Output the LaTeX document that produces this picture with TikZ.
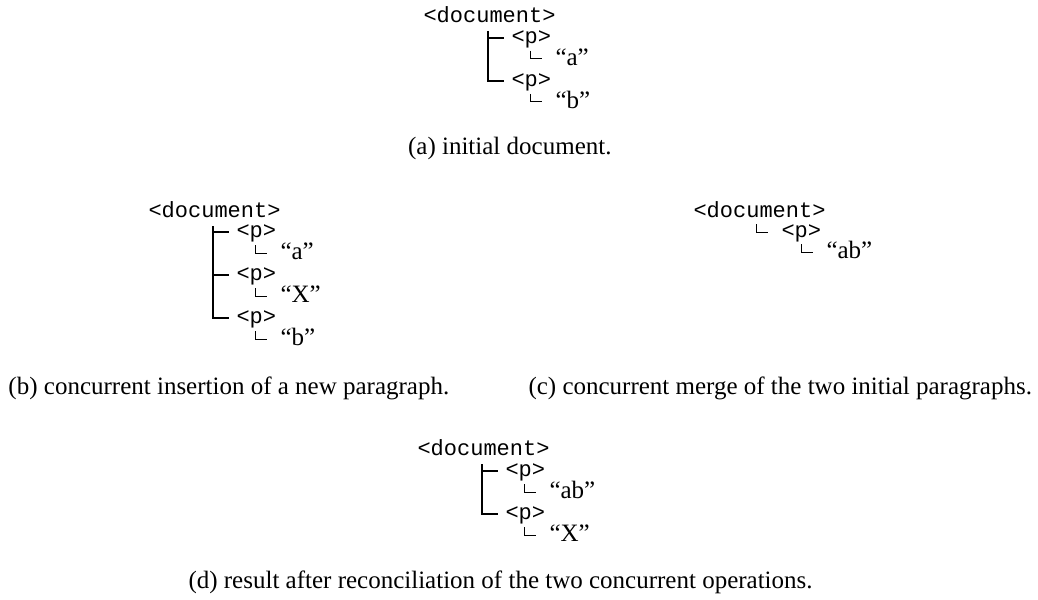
\documentclass[tikz,border=0pt]{standalone}
\usepackage{fontspec}
\setmainfont{Liberation Serif}
\setmonofont{Liberation Mono}
\usetikzlibrary{calc}

\newcommand\hookto[1]{\draw[hook] ($(#1.west)+(-25,-8)$) |- ($(#1.west)+(-13,0)$);}

\begin{document}
\begin{tikzpicture}[x=0.4pt,y=-0.4pt,
  tag/.style={anchor=west,inner sep=0pt,text height=5.8pt,text depth=1.6pt,
    font={\fontsize{8.8}{10}\selectfont\ttfamily}},
  leaf/.style={anchor=west,inner sep=0pt,text height=6.3pt,text depth=1.4pt,
    font={\fontsize{10}{12}\selectfont}},
  caption/.style={inner sep=0pt,font={\fontsize{10}{12}\selectfont}},
  trunk/.style={line width=0.5pt,shorten >=3pt},
  hook/.style={line width=0.4pt}]

  \useasboundingbox (0,0) rectangle (1038,599);

  % (a) initial document
  \node [tag] (a-doc) at (423,17) {<document>};
  \coordinate (a-top) at (488,31);
  \node [tag] (a-p1) at (511,38) {<p>};
  \node [leaf] (a-t1) at (555,59) {“a”};
  \node [tag] (a-p2) at (511,81) {<p>};
  \node [leaf] (a-t2) at (555,102) {“b”};
  \draw [trunk] (a-top) |- (a-p2.west);
  \draw [trunk] (a-top |- a-p1.west) -- (a-p1.west);
  \hookto{a-t1} \hookto{a-t2}
  \node [caption,anchor=east] (a-cap) at (612,148) {(a) initial document.};

  % (b) insertion
  \node [tag] (b-doc) at (148,212) {<document>};
  \coordinate (b-top) at (213,226);
  \node [tag] (b-p1) at (236,232) {<p>};
  \node [leaf] (b-t1) at (280,253) {“a”};
  \node [tag] (b-p2) at (236,275) {<p>};
  \node [leaf] (b-t2) at (280,296) {“X”};
  \node [tag] (b-p3) at (236,318) {<p>};
  \node [leaf] (b-t3) at (280,339) {“b”};
  \draw [trunk] (b-top) |- (b-p3.west);
  \draw [trunk] (b-top |- b-p1.west) -- (b-p1.west);
  \draw [trunk] (b-top |- b-p2.west) -- (b-p2.west);
  \hookto{b-t1} \hookto{b-t2} \hookto{b-t3}
  \node [caption,anchor=west] (b-cap) at (8,388) {(b) concurrent insertion of a new paragraph.};

  % (c) merge
  \node [tag] (c-doc) at (693,212) {<document>};
  \node [tag] (c-p1) at (781,232) {<p>};
  \node [leaf] (c-t1) at (826,252) {“ab”};
  \hookto{c-p1} \hookto{c-t1}
  \node [caption,anchor=west] (c-cap) at (528,388) {(c) concurrent merge of the two initial paragraphs.};

  % (d) result
  \node [tag] (d-doc) at (417,450) {<document>};
  \coordinate (d-top) at (482,464);
  \node [tag] (d-p1) at (505,471) {<p>};
  \node [leaf] (d-t1) at (549,492) {“ab”};
  \node [tag] (d-p2) at (505,514) {<p>};
  \node [leaf] (d-t2) at (549,535) {“X”};
  \draw [trunk] (d-top) |- (d-p2.west);
  \draw [trunk] (d-top |- d-p1.west) -- (d-p1.west);
  \hookto{d-t1} \hookto{d-t2}
  \node [caption,anchor=west] (d-cap) at (188,582) {(d) result after reconciliation of the two concurrent operations.};

\end{tikzpicture}
\end{document}
